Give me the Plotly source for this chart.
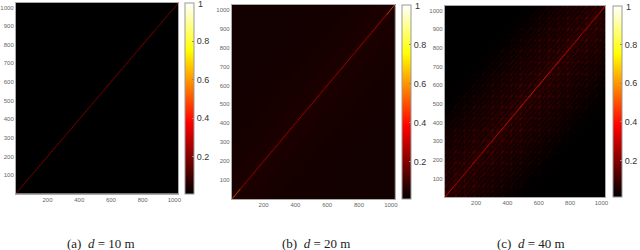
import plotly.graph_objects as go

W, H = 640, 250
TICKS_X = [200, 400, 600, 800, 1000]
TICKS_Y = [100, 200, 300, 400, 500, 600, 700, 800, 900, 1000]
CB_TICKS = [0.2, 0.4, 0.6, 0.8]
CB_TOP = "1"
CAPTIONS = ["(a)\u00a0 <i>d</i> = 10 m", "(b)\u00a0 <i>d</i> = 20 m", "(c)\u00a0 <i>d</i> = 40 m"]

# background level by distance from the diagonal, every 50 units of |x-y|
OFFSET_A = [.012] * 21
OFFSET_B = [.052, .05, .048, .046, .044, .042, .041, .04, .04, .039, .039,
            .038, .038, .037, .037, .037, .037, .037, .037, .037, .037]
OFFSET_C = [.125, .12, .11, .10, .092, .083, .07, .058, .045, .032, .023,
            .015, .01, .008, .006, .005, .005, .005, .005, .005, .005]
# repeating lattice weight seen in panel (c)
TILE_C = [
    [1.0, .8, .6, .5, .6, .8, .9, .8, .6, .5, .6, .8],
    [.8, 1.0, .75, .45, .4, .5, .7, .65, .5, .4, .4, .6],
    [.6, .75, .8, .65, .4, .35, .5, .65, .6, .4, .35, .45],
    [.5, .45, .65, .7, .6, .35, .35, .5, .65, .55, .35, .35],
    [.6, .4, .4, .6, .7, .6, .35, .35, .5, .65, .55, .35],
    [.8, .5, .35, .35, .6, .7, .6, .35, .35, .5, .65, .55],
    [.9, .7, .5, .35, .35, .6, .7, .6, .35, .35, .5, .65],
    [.8, .65, .65, .5, .35, .35, .6, .7, .6, .35, .35, .5],
    [.6, .5, .6, .65, .5, .35, .35, .6, .7, .6, .35, .35],
    [.5, .4, .4, .55, .65, .5, .35, .35, .6, .7, .6, .35],
    [.6, .4, .35, .35, .55, .65, .5, .35, .35, .6, .7, .6],
    [.8, .6, .45, .35, .35, .55, .65, .5, .35, .35, .6, .7],
]
TILE_FLAT = [[1.0]]
# diagonal values along the matrix, sampled from x=0 to x=1000
DIAG_A = [.24, .22, .24, .22, .24, .22, .24, .22, .24, .22, .24]
DIAG_B = [.50, .28, .28, .28, .28, .29, .29, .29, .30, .32, .50]
DIAG_C = [.38, .30, .32, .36, .40, .42, .42, .40, .36, .33, .38]

# colour stops of the "hot" map
HOT = [[0, "#000000"], [0.375, "#ff0000"], [0.75, "#ffff00"], [1, "#ffffff"]]
ZMIN, ZMAX = 0.01, 1.001

CELL = 5
AXIS = list(range(1, 1025, CELL))


def build(offset, tile):
    z = []
    for i, yv in enumerate(AXIS):
        row = []
        for j, xv in enumerate(AXIS):
            e = offset[round(abs(xv - yv) / 50)]
            row.append(e * tile[i % len(tile)][j % len(tile[0])])
        z.append(row)
    return z


PANELS = [
    dict(off=OFFSET_A, tile=TILE_FLAT, diag=DIAG_A, box=(16, 179, 3, 193.5), cb=(186, 195)),
    dict(off=OFFSET_B, tile=TILE_FLAT, diag=DIAG_B, box=(233, 396.5, 5, 199), cb=(404, 412.5)),
    dict(off=OFFSET_C, tile=TILE_C, diag=DIAG_C, box=(447, 608, 6, 197), cb=(616, 624.5)),
]
CAP_X = [101, 317, 533]
CAP_Y = 243

fig = go.Figure()
layout = dict(
    width=W, height=H, margin=dict(l=0, r=0, t=0, b=0, pad=0),
    paper_bgcolor="white", plot_bgcolor="black", showlegend=False,
    font=dict(family="Liberation Sans", color="#666666"),
)
annotations = []
for k, p in enumerate(PANELS):
    s = "" if k == 0 else str(k + 1)
    x0, x1, y0, y1 = p["box"]
    fig.add_trace(go.Heatmap(
        z=build(p["off"], p["tile"]), x=AXIS, y=AXIS,
        xaxis="x" + s, yaxis="y" + s, coloraxis="coloraxis" + s, zsmooth="best",
    ))
    fig.add_trace(go.Scatter(
        x=AXIS, y=AXIS, mode="markers", xaxis="x" + s, yaxis="y" + s,
        marker=dict(size=1, color=[p["diag"][round(v / 1024 * 10)] for v in AXIS],
                    coloraxis="coloraxis" + s, line=dict(width=0)),
    ))
    axis_common = dict(
        range=[1, 1024], showgrid=False, zeroline=False, showline=True, linecolor="#aaaaaa",
        linewidth=1, mirror=True, ticks="", tickfont=dict(size=6, color="#666666"),
    )
    layout["xaxis" + s] = dict(axis_common, domain=[x0 / W, x1 / W], anchor="y" + s,
                               tickvals=TICKS_X, ticktext=[str(t) for t in TICKS_X])
    layout["yaxis" + s] = dict(axis_common, domain=[1 - y1 / H, 1 - y0 / H], anchor="x" + s,
                               tickvals=TICKS_Y, ticktext=[str(t) for t in TICKS_Y])
    layout["coloraxis" + s] = dict(
        colorscale=HOT, cmin=ZMIN, cmax=ZMAX,
        colorbar=dict(
            x=p["cb"][0] / W, xanchor="left", xref="paper", xpad=0, ypad=0,
            y=1 - y1 / H, yanchor="bottom", yref="paper",
            len=(y1 - y0) / H, lenmode="fraction",
            thickness=p["cb"][1] - p["cb"][0], thicknessmode="pixels",
            tickvals=CB_TICKS, ticktext=[str(t) for t in CB_TICKS],
            ticks="inside", ticklen=2, tickcolor="#888888",
            outlinecolor="#999999", outlinewidth=1,
            tickfont=dict(family="Liberation Sans", size=9, color="#333333"),
        ),
    )
    annotations.append(dict(
        x=(p["cb"][1] + 3) / W, y=1 - (y0 + 0.5) / H, xref="paper", yref="paper", text=CB_TOP,
        showarrow=False, xanchor="left", yanchor="middle", borderpad=0,
        font=dict(family="Liberation Sans", size=9, color="#333333"),
    ))

annotations += [
    dict(x=cx / W, y=1 - CAP_Y / H, xref="paper", yref="paper", text=t, showarrow=False,
         xanchor="center", yanchor="middle",
         font=dict(family="Liberation Serif", size=13, color="#222222"))
    for cx, t in zip(CAP_X, CAPTIONS)
]
layout["annotations"] = annotations
fig.update_layout(**layout)
fig.write_html("out.html", config={"displayModeBar": False},
               post_script="document.body.style.margin='0';document.body.style.overflow='hidden';")
